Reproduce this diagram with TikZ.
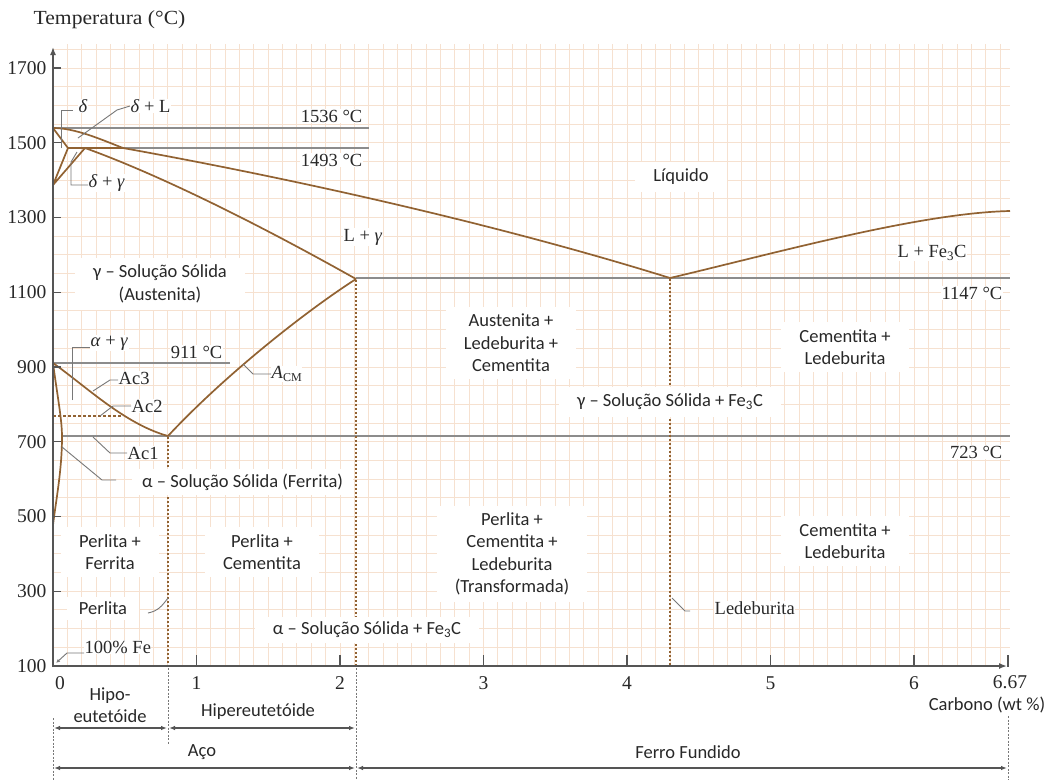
\documentclass[tikz,border=0pt]{standalone}
\usepackage{fontspec}
\setmainfont{Liberation Serif}
\setsansfont{Carlito}
\usetikzlibrary{arrows.meta}
\definecolor{fcbrown}{RGB}{145,98,50}
\definecolor{isogray}{RGB}{140,140,140}
\definecolor{gridc}{RGB}{246,225,208}
\definecolor{axisc}{RGB}{85,85,85}
\definecolor{txt}{RGB}{40,40,40}
\definecolor{leadc}{RGB}{120,120,120}
\begin{document}
\begin{tikzpicture}[x=1pt,y=-1pt,
  gridline/.style={gridc, line width=1pt},
  phase/.style={fcbrown, line width=1.7pt, line join=round},
  iso/.style={isogray, line width=1.5pt},
  dotv/.style={fcbrown, line width=2pt, dash pattern=on 2pt off 2pt},
  guide/.style={leadc, line width=0.8pt, dash pattern=on 2pt off 1.5pt},
  leader/.style={leadc, line width=0.9pt},
  dimline/.style={axisc, line width=1.2pt, {Latex[length=6pt,width=4.5pt]}-{Latex[length=6pt,width=4.5pt]}},
  serif/.style={font=\fontsize{18.5}{22}\selectfont\rmfamily, text=txt, inner sep=0.5pt},
  ticklab/.style={font=\fontsize{19.5}{22}\selectfont\rmfamily, text=txt, inner sep=0.5pt},
  serifbox/.style={serif, fill=white},
  sanslab/.style={font=\fontsize{18.5}{22.5}\selectfont\sffamily, text=txt, align=center, inner sep=1pt},
  region/.style={sanslab, fill=white, inner xsep=18pt, inner ysep=7pt},
  axisline/.style={axisc, line width=1.5pt}
]
\useasboundingbox[fill=white] (0,0) rectangle (1050,780);

% grid
\foreach \k in {1,...,66} \draw[gridline] ({53+14.35*\k},44) -- ({53+14.35*\k},666);
\foreach \t in {1,...,33} \draw[gridline] (53,{666-18.6875*\t}) -- (1010,{666-18.6875*\t});

% isotherms
\draw[iso] (53,128) -- (369,128);
\draw[iso] (68,148) -- (369,148);
\draw[iso] (356,278) -- (1010,278);
\draw[iso] (53,363) -- (230,363);
\draw[iso] (62,436) -- (1010,436);

% dotted verticals
\draw[dotv] (168,437) -- (168,666);
\draw[dotv] (356,280) -- (356,666);
\draw[dotv] (670,279) -- (670,666);

% Ac2 dashed
\draw[fcbrown, line width=1.4pt, dash pattern=on 3pt off 2pt] (53,416) -- (121,416);

% phase boundaries
\draw[phase] (53,128) .. controls (75,128) and (100,139) .. (123,148)
  .. controls (300,180) and (500,225) .. (670,278);
\draw[phase] (670,278) .. controls (780,252) and (920,213) .. (1010,211);
\draw[phase] (53,128) -- (68,148) -- (53,185) -- (85,148);
\draw[phase] (68,148) -- (123,148);
\draw[phase] (85,148) .. controls (160,175) and (260,225) .. (356,279);
\draw[phase] (168,436) .. controls (220,380) and (300,315) .. (356,279);
\draw[phase] (53,363) .. controls (88,388) and (125,424) .. (168,436);
\draw[phase] (53,363) .. controls (58,400) and (62,420) .. (62,437)
  .. controls (62,470) and (56,500) .. (53,525);

% region labels
\node[region] (liq) at (681,177) {Líquido};
\node[region] (aust) at (160,284) {γ – Solução Sólida\\(Austenita)};
\node[region] (alb) at (511,343) {Austenita +\\Ledeburita +\\Cementita};
\node[region] (cl1) at (845,347) {Cementita +\\Ledeburita};
\node[region] (gfe) at (670,402) {γ – Solução Sólida + Fe\textsubscript{3}C};
\node[region, anchor=west, inner ysep=5pt, inner xsep=10pt] (ferr) at (132,482) {α – Solução Sólida (Ferrita)};
\node[region] (pf) at (110,552) {Perlita +\\Ferrita};
\node[region] (pc) at (262,552) {Perlita +\\Cementita};
\node[region] (pcl) at (512,554) {Perlita +\\Cementita +\\Ledeburita\\(Transformada)};
\node[region] (cl2) at (845,541) {Cementita +\\Ledeburita};
\node[region, inner xsep=12pt, inner ysep=5pt] (perl) at (103,608) {Perlita};
\node[region, inner ysep=5pt] (afe) at (367,630) {α – Solução Sólida + Fe\textsubscript{3}C};

% serif labels
\node[serif, anchor=west, font=\fontsize{20}{22}\selectfont\rmfamily] (temp) at (33,20) {\scalebox{1.08}[1]{Temperatura (°C)}};
\node[serifbox] (dlt) at (83,106) {\textit{δ}};
\node[serifbox, anchor=west] (dl) at (130,106) {\textit{δ} + L};
\node[serifbox, anchor=east] (t1536) at (363,116) {1536 °C};
\node[serifbox, anchor=east] (t1493) at (363,160) {1493 °C};
\node[serifbox, anchor=west] (dg) at (88,183) {\textit{δ} + \textit{γ}};
\node[serifbox] (lg) at (363,237) {L + \textit{γ}};
\node[serifbox] (lfe) at (932,253) {L + Fe\textsubscript{3}C};
\node[serifbox, anchor=east] (t1147) at (1003,293) {1147 °C};
\node[serifbox, anchor=west] (ag) at (90,343) {\textit{α} + \textit{γ}};
\node[serifbox, anchor=east] (t911) at (223,352) {911 °C};
\node[serifbox, anchor=west] (ac3) at (118,378) {Ac3};
\node[serifbox, anchor=west] (ac2) at (131,406) {Ac2};
\node[serifbox, anchor=west] (ac1) at (127,453) {Ac1};
\node[serifbox, anchor=west] (acm) at (271,374) {\textit{A}\raisebox{-0.35ex}{\fontsize{12}{12}\selectfont CM}};
\node[serifbox, anchor=east] (t723) at (1003,452) {723 °C};
\node[serifbox, anchor=west] (ledb) at (714,608) {Ledeburita};
\node[serifbox, anchor=west] (fe100) at (84,647) {100\% Fe};

% leaders and brackets
\draw[leader] (61,148) -- (61,110) -- (73,110);
\draw[leader] (78,138) -- (117,110) -- (dl.west);
\draw[leader] (77,152) -- (71,162) -- (71,185) -- (dg.west |- 0,185);
\draw[leader] (72,400) -- (72,347) -- (ag.west |- 0,347);
\draw[leader] (93,391) -- (110,380) -- (ac3.west |- 0,380);
\draw[leader] (100,416) -- (113,406) -- (ac2.west);
\draw[leader] (93,437) -- (110,453) -- (ac1.west);
\draw[leader] (243,364) -- (253,374) -- (acm.west);
\draw[leader] (62,447) -- (102,480) -- (116,480);
\draw[leader] (148,613) .. controls (158,611) and (162,606) .. (168,598);
\draw[leader] (672,598) -- (685,611) -- (690,611);
\draw[leader, {Latex[length=4pt,width=3.5pt]}-] (56,663) -- (67,653) -- (fe100.west |- 0,653);

% guides below axis
\draw[guide] (53,718) -- (53,780);
\draw[guide] (168,668) -- (168,744);
\draw[guide] (356,668) -- (356,780);
\draw[guide] (1008,716) -- (1008,780);

% dimension arrows
\draw[dimline] (54,728) -- (167,728);
\draw[dimline] (169,728) -- (355,728);
\draw[dimline] (54,768) -- (355,768);
\draw[dimline] (357,768) -- (1007,768);
\node[sanslab] (hipo) at (110,705) {Hipo-\\eutetóide};
\node[sanslab] (hiper) at (258,712) {Hipereutetóide};
\node[sanslab] (aco) at (202,752) {Aço};
\node[sanslab] (ff) at (688,752) {Ferro Fundido};
\node[sanslab] (carb) at (987,705) {Carbono (wt \%)};

% axes
\draw[axisline, -{Latex[length=8pt,width=6pt]}] (53,667) -- (53,47);
\draw[axisline, -{Latex[length=8pt,width=6pt]}] (53,666) -- (1007,666);
\draw[axisline] (1008,655) -- (1008,667);
\foreach \T/\yy in {1700/68,1500/142.75,1300/217.5,1100/292.25,900/367,700/441.75,500/516.5,300/591.25,100/666}{
  \draw[axisc, line width=1.2pt] (53,\yy) -- (61,\yy);
  \node[ticklab, anchor=east] at (47,\yy) {\T};
}
\foreach \c/\xx in {1/196.5,2/340,3/483.5,4/627,5/770.5,6/914}{
  \draw[axisc, line width=1.2pt] (\xx,666) -- (\xx,655);
  \node[ticklab] at (\xx,683) {\c};
}
\node[ticklab] at (60,683) {0};
\node[ticklab] at (1010,682) {6.67};
\end{tikzpicture}
\end{document}
